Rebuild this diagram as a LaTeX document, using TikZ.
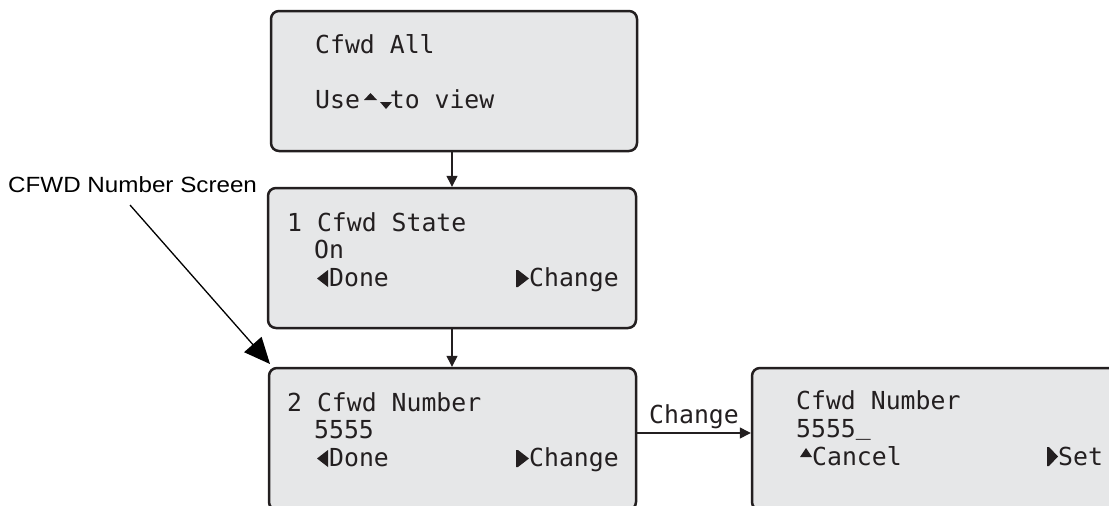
\documentclass[tikz,border=0pt]{standalone}
\usepackage{fontspec}
\newfontfamily\lcdfont{DejaVu Sans Mono}
\newfontfamily\lblfont[FakeStretch=1.1]{Liberation Sans}
\usetikzlibrary{arrows.meta,calc}
\definecolor{boxfill}{HTML}{E6E7E8}
\definecolor{ink}{HTML}{231F20}
\begin{document}
\begin{tikzpicture}[x=1pt,y=-1pt,
  screen/.style={draw=ink, fill=boxfill, line width=2.5pt, rounded corners=8pt,
    rectangle, inner sep=0pt, outer sep=0pt},
  lcd/.style={font=\lcdfont\fontsize{24.8}{24.8}\selectfont, text=ink,
    inner sep=0pt, anchor=base west},
  flow/.style={draw=ink, line width=1.3pt, -{Triangle[length=11pt,width=11pt]}},
  icon/.style={fill=ink, draw=none}]
\useasboundingbox (0,0) rectangle (1109,506);
\clip (0,0) rectangle (1109,506);

% screens
\node[screen, minimum width=366pt, minimum height=140pt] (b1) at (454,81) {};
\node[screen, minimum width=368pt, minimum height=140pt] (b2) at (452,258) {};
\node[screen, minimum width=367pt, minimum height=142pt] (b3) at (452.5,439) {};
\node[screen, minimum width=373pt, minimum height=142pt] (b4) at (938.5,439) {};

% screen 1 text
\node[lcd] (t1a) at (315,53) {Cfwd All};
\node[lcd] (t1b) at (315,108) {Use\ \ to view};
\fill[icon] (364,100) -- (370.5,93) -- (377,100) -- cycle;
\fill[icon] (380,102) -- (392,102) -- (386,109) -- cycle;

% screen 2 text
\node[lcd] (t2a) at (287,231) {1 Cfwd State};
\node[lcd] (t2b) at (314,258) {On};
\node[lcd] (t2c) at (329,286) {Done};
\node[lcd] (t2d) at (529,286) {Change};
\fill[icon] (328,270) -- (328,287) -- (317,278.5) -- cycle;
\fill[icon] (516,270) -- (518,270) -- (529,278.5) -- (518,287) -- (516,287) -- cycle;

% screen 3 text
\node[lcd] (t3a) at (287,411) {2 Cfwd Number};
\node[lcd] (t3b) at (314,438) {5555};
\node[lcd] (t3c) at (329,466) {Done};
\node[lcd] (t3d) at (529,466) {Change};
\fill[icon] (328,450) -- (328,467) -- (317,458.5) -- cycle;
\fill[icon] (516,450) -- (518,450) -- (529,458.5) -- (518,467) -- (516,467) -- cycle;

% screen 4 text
\node[lcd] (t4a) at (796,409) {Cfwd Number};
\node[lcd] (t4b) at (796,437) {5555\raisebox{2.5pt}{\_}};
\node[lcd] (t4c) at (812,465) {Cancel};
\node[lcd] (t4d) at (1058,465) {Set};
\fill[icon] (800,457) -- (812,457) -- (806,448) -- cycle;
\fill[icon] (1047,447) -- (1049,447) -- (1058,456.5) -- (1049,466) -- (1047,466) -- cycle;

% connectors
\draw[flow, shorten >=1.2pt] (b2.north |- b1.south) -- (b2.north);
\draw[flow, shorten >=1.2pt] (b2.south) -- (b2.south |- b3.north);
\draw[flow, shorten >=1.2pt] (b3.east |- 0,433) -- node[lcd, anchor=base, yshift=10pt] (chg) {Change} (b4.west |- 0,433);

% callout
\node[font=\lblfont\fontsize{22}{22}\selectfont, text=black, inner sep=0pt,
  anchor=base west] (lbl) at (8,192) {CFWD Number Screen};
\coordinate (lblfoot) at (130,205);
\draw[black, line width=1.3pt, -{Triangle[length=26pt,width=23pt]}]
  (lblfoot) -- ($(b3.north west)+(1,-4)$);
\end{tikzpicture}
\end{document}
